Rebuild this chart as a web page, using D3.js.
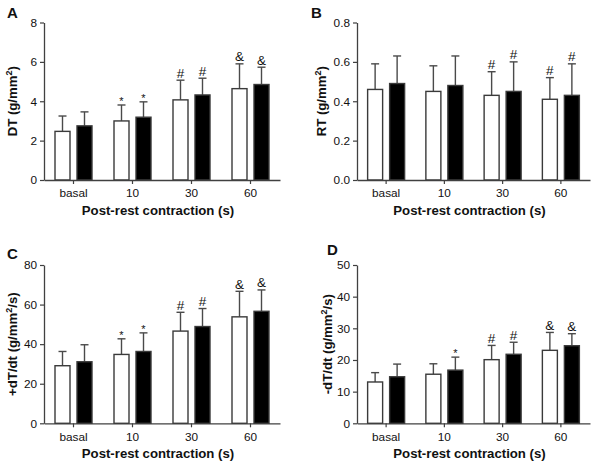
<!DOCTYPE html>
<html><head><meta charset="utf-8">
<script src="https://cdn.jsdelivr.net/npm/d3@7"></script>
<style>body{margin:0;background:#fff}svg{display:block;font-family:Arial,"Liberation Sans",sans-serif}</style>
</head><body><svg id="c" width="600" height="465"></svg>
<script>
const categories = ["basal", "10", "30", "60"];
const series = ["white", "black"];

const dtWhite = [2.47, 3.0, 4.07, 4.64];
const dtWhiteSD = [0.78, 0.81, 1.0, 1.26];
const dtBlack = [2.75, 3.19, 4.32, 4.85];
const dtBlackSD = [0.71, 0.78, 0.85, 0.88];
const dtWhiteMark = ["", "*", "#", "&"];
const dtBlackMark = ["", "*", "#", "&"];
const dtTicks = [0, 2, 4, 6, 8];

const rtWhite = [0.46, 0.45, 0.43, 0.41];
const rtWhiteSD = [0.13, 0.13, 0.12, 0.11];
const rtBlack = [0.49, 0.48, 0.45, 0.43];
const rtBlackSD = [0.14, 0.15, 0.15, 0.16];
const rtWhiteMark = ["", "", "#", "#"];
const rtBlackMark = ["", "", "#", "#"];
const rtTicks = [0, 0.2, 0.4, 0.6, 0.8];

const pdtWhite = [29.1, 34.8, 46.6, 53.8];
const pdtWhiteSD = [7.2, 7.9, 9.5, 12.9];
const pdtBlack = [31.1, 36.3, 48.9, 56.6];
const pdtBlackSD = [8.6, 9.4, 9.1, 10.8];
const pdtWhiteMark = ["", "*", "#", "&"];
const pdtBlackMark = ["", "*", "#", "&"];
const pdtTicks = [0, 20, 40, 60, 80];

const ndtWhite = [13.05, 15.5, 20.1, 23.05];
const ndtWhiteSD = [2.95, 3.3, 4.5, 5.65];
const ndtBlack = [14.7, 16.8, 21.8, 24.5];
const ndtBlackSD = [4.0, 4.1, 3.8, 3.8];
const ndtWhiteMark = ["", "", "#", "&"];
const ndtBlackMark = ["", "*", "#", "&"];
const ndtTicks = [0, 10, 20, 30, 40, 50];

const xTitle = "Post-rest contraction (s)";

const panels = [
  {letter:"A", lx:7, ly:18, left:44, right:280, top:22.5, bottom:180, ticks:dtTicks, fmt:d3.format("d"),
   yl:["DT (g/mm", "2", ")"], ylx:17, white:dtWhite, wsd:dtWhiteSD, black:dtBlack, bsd:dtBlackSD, wm:dtWhiteMark, bm:dtBlackMark},
  {letter:"B", lx:311, ly:18, left:357, right:590, top:22.5, bottom:180, ticks:rtTicks, fmt:d3.format(".1f"),
   yl:["RT (g/mm", "2", ")"], ylx:326, white:rtWhite, wsd:rtWhiteSD, black:rtBlack, bsd:rtBlackSD, wm:rtWhiteMark, bm:rtBlackMark},
  {letter:"C", lx:7, ly:259, left:44, right:280, top:265, bottom:423.3, ticks:pdtTicks, fmt:d3.format("d"),
   yl:["+dT/dt (g/mm", "2", "/s)"], ylx:17, white:pdtWhite, wsd:pdtWhiteSD, black:pdtBlack, bsd:pdtBlackSD, wm:pdtWhiteMark, bm:pdtBlackMark},
  {letter:"D", lx:327, ly:254.5, left:357, right:590, top:265, bottom:423.3, ticks:ndtTicks, fmt:d3.format("d"),
   yl:["-dT/dt (g/mm", "2", "/s)"], ylx:332, white:ndtWhite, wsd:ndtWhiteSD, black:ndtBlack, bsd:ndtBlackSD, wm:ndtWhiteMark, bm:ndtBlackMark}
];

const svg = d3.select("#c");
const axisColor = "#404040";

panels.forEach(p => {
  const g = svg.append("g");
  const x = d3.scaleBand().domain(categories).range([p.left, p.right]).paddingInner(0).paddingOuter(0);
  const xi = d3.scaleBand().domain(series).range([-18.5, 18.5]).paddingInner(7/22).paddingOuter(0);
  const y = d3.scaleLinear().domain([0, d3.max(p.ticks)]).range([p.bottom, p.top]);

  const rows = [];
  categories.forEach((c, i) => {
    rows.push({c, s:"white", v:p.white[i], sd:p.wsd[i], m:p.wm[i]});
    rows.push({c, s:"black", v:p.black[i], sd:p.bsd[i], m:p.bm[i]});
  });
  const cx = d => x(d.c) + x.bandwidth()/2 + xi(d.s) + xi.bandwidth()/2;

  g.selectAll("line.err").data(rows).join("line")
    .attr("x1", cx).attr("x2", cx)
    .attr("y1", d => y(d.v)).attr("y2", d => y(d.v + d.sd))
    .attr("stroke", "#4a4a4a").attr("stroke-width", 1.4);
  g.selectAll("line.cap").data(rows).join("line")
    .attr("x1", d => cx(d) - 4).attr("x2", d => cx(d) + 4)
    .attr("y1", d => y(d.v + d.sd)).attr("y2", d => y(d.v + d.sd))
    .attr("stroke", "#4a4a4a").attr("stroke-width", 1.4);

  g.selectAll("rect.bar").data(rows).join("rect")
    .attr("x", d => x(d.c) + x.bandwidth()/2 + xi(d.s))
    .attr("width", xi.bandwidth())
    .attr("y", d => y(d.v))
    .attr("height", d => y(0) - y(d.v))
    .attr("fill", d => d.s === "white" ? "#fff" : "#000")
    .attr("stroke", "#3a3a3a").attr("stroke-width", 1.4);

  g.selectAll("text.mk").data(rows.filter(d => d.m)).join("text")
    .attr("x", cx)
    .attr("y", d => y(d.v + d.sd) - (d.m === "*" ? 0 : 2.5))
    .attr("text-anchor", "middle")
    .attr("font-size", d => d.m === "*" ? 11 : 13.5)
    .attr("fill", "#111")
    .text(d => d.m);

  const ya = g.append("g").attr("transform", `translate(${p.left},0)`)
    .call(d3.axisLeft(y).tickValues(p.ticks).tickFormat(p.fmt).tickSize(4).tickSizeOuter(0).tickPadding(3));
  const xa = g.append("g").attr("transform", `translate(0,${p.bottom})`)
    .call(d3.axisBottom(x).tickSize(4).tickSizeOuter(0).tickPadding(5));
  [ya, xa].forEach(a => {
    a.select(".domain").attr("stroke", axisColor).attr("stroke-width", 1.3);
    a.selectAll(".tick line").attr("stroke", axisColor).attr("stroke-width", 1.2);
    a.selectAll(".tick text").attr("fill", "#111").attr("font-size", 11.8).attr("font-family", "Arial, 'Liberation Sans', sans-serif");
  });

  g.append("text").attr("x", (p.left + p.right)/2 - 4).attr("y", p.bottom + 35)
    .attr("text-anchor", "middle").attr("font-weight", "bold").attr("font-size", 13.2).attr("fill", "#111")
    .text(xTitle);

  const cy = (p.top + p.bottom)/2;
  const yt = g.append("text").attr("transform", `translate(${p.ylx},${cy}) rotate(-90)`)
    .attr("text-anchor", "middle").attr("font-weight", "bold").attr("font-size", 13.2).attr("fill", "#111");
  yt.append("tspan").text(p.yl[0]);
  yt.append("tspan").attr("dy", -5).attr("font-size", 9).text(p.yl[1]);
  yt.append("tspan").attr("dy", 5).text(p.yl[2]);

  g.append("text").attr("x", p.lx).attr("y", p.ly).attr("font-weight", "bold").attr("font-size", 15).attr("fill", "#111").text(p.letter);
});
</script></body></html>
